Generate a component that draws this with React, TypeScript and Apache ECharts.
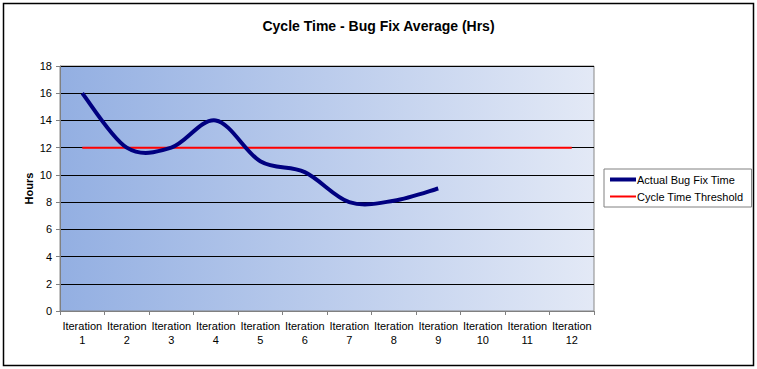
import React, { useEffect, useRef } from "react";
import * as echarts from "echarts";

const categories = ["Iteration\n1", "Iteration\n2", "Iteration\n3", "Iteration\n4", "Iteration\n5", "Iteration\n6", "Iteration\n7", "Iteration\n8", "Iteration\n9", "Iteration\n10", "Iteration\n11", "Iteration\n12"];
const actualBugFixTime = [16, 12, 12, 14, 11, 10.2, 8, 8.1, 9];
const cycleTimeThreshold = [12, 12, 12, 12, 12, 12, 12, 12, 12, 12, 12, 12];

export default function App() {
  const ref = useRef<HTMLDivElement>(null);
  useEffect(() => {
    if (!ref.current) return;
    const chart = echarts.init(ref.current, undefined, { renderer: "svg" });
    const font = "'Liberation Sans', Arial, sans-serif";
    const renderSmooth = (params: any, api: any) => {
      if (params.dataIndex !== 0) return null;
      const pts = actualBugFixTime.map((v, i) => api.coord([i, v]));
      const n = pts.length;
      const P = (i: number) => pts[Math.max(0, Math.min(n - 1, i))];
      let d = `M${pts[0][0]},${pts[0][1]}`;
      for (let i = 0; i < n - 1; i++) {
        const p0 = P(i - 1), p1 = P(i), p2 = P(i + 1), p3 = P(i + 2);
        const c1x = p1[0] + (p2[0] - p0[0]) / 6;
        const c1y = p1[1] + (p2[1] - p0[1]) / 6;
        const c2x = p2[0] - (p3[0] - p1[0]) / 6;
        const c2y = p2[1] - (p3[1] - p1[1]) / 6;
        d += ` C${c1x},${c1y} ${c2x},${c2y} ${p2[0]},${p2[1]}`;
      }
      return {
        type: "path",
        shape: { pathData: d },
        style: { fill: "none", stroke: "#000080", lineWidth: 4, lineJoin: "round" },
      };
    };
    chart.setOption({
      animation: false,
      backgroundColor: "#ffffff",
      textStyle: { fontFamily: font },
      title: {
        text: "Cycle Time - Bug Fix Average (Hrs)",
        left: "center",
        top: 14,
        textStyle: { fontSize: 14, fontWeight: "bold", color: "#000", fontFamily: font },
      },
      graphic: [
        {
          type: "rect",
          shape: { x: 3.5, y: 3.5, width: 750, height: 362 },
          style: { fill: "none", stroke: "#000", lineWidth: 1.5 },
          silent: true,
        },
      ],
      legend: {
        orient: "vertical",
        left: 604,
        top: 169,
        padding: [5, 8, 5, 5],
        itemGap: 6,
        itemWidth: 26,
        itemHeight: 4,
        borderColor: "#808080",
        borderWidth: 1,
        backgroundColor: "#ffffff",
        textStyle: { fontSize: 11, color: "#000", fontFamily: font, padding: [0, 0, 0, -4] },
        data: [
          { name: "Actual Bug Fix Time", icon: "rect", itemStyle: { color: "#000080" } },
          { name: "Cycle Time Threshold", itemStyle: { opacity: 0 } },
        ],
      },
      grid: {
        left: 60,
        right: 163,
        top: 66,
        bottom: 58,
        show: true,
        borderColor: "#888888",
        borderWidth: 1,
        backgroundColor: new echarts.graphic.LinearGradient(0, 0, 1, 0, [
          { offset: 0, color: "#93afe2" },
          { offset: 1, color: "#e3e9f6" },
        ]),
      },
      xAxis: {
        type: "category",
        data: categories,
        boundaryGap: true,
        axisLine: { lineStyle: { color: "#808080", width: 1 } },
        axisTick: { show: true, length: 4, lineStyle: { color: "#808080" } },
        axisLabel: { fontSize: 11, color: "#000", fontFamily: font, lineHeight: 14, margin: 8, interval: 0 },
        splitLine: { show: false },
      },
      yAxis: {
        type: "value",
        min: 0,
        max: 18,
        interval: 2,
        name: "Hours",
        nameLocation: "middle",
        nameGap: 26,
        nameMoveOverlap: false,
        nameTextStyle: { fontSize: 11, fontWeight: "bold", color: "#000", fontFamily: font },
        axisLine: { show: true, lineStyle: { color: "#808080", width: 1 } },
        axisTick: { show: true, length: 4, lineStyle: { color: "#808080" } },
        axisLabel: { fontSize: 11, color: "#000", fontFamily: font, margin: 8 },
        splitLine: { show: true, lineStyle: { color: "#000", width: 1 } },
      },
      series: [
        {
          name: "Actual Bug Fix Time",
          type: "custom",
          data: actualBugFixTime.map((v, i) => [i, v]),
          encode: { x: 0, y: 1 },
          renderItem: renderSmooth,
          itemStyle: { color: "#000080" },
          z: 3,
        },
        {
          name: "Cycle Time Threshold",
          type: "line",
          data: cycleTimeThreshold,
          symbol: "none",
          lineStyle: { color: "#ff0000", width: 2 },
          itemStyle: { color: "#ff0000" },
          z: 2,
        },
      ],
    });
    return () => chart.dispose();
  }, []);
  return <div ref={ref} style={{ position: "fixed", left: 0, top: 0, width: 757, height: 369 }} />;
}
